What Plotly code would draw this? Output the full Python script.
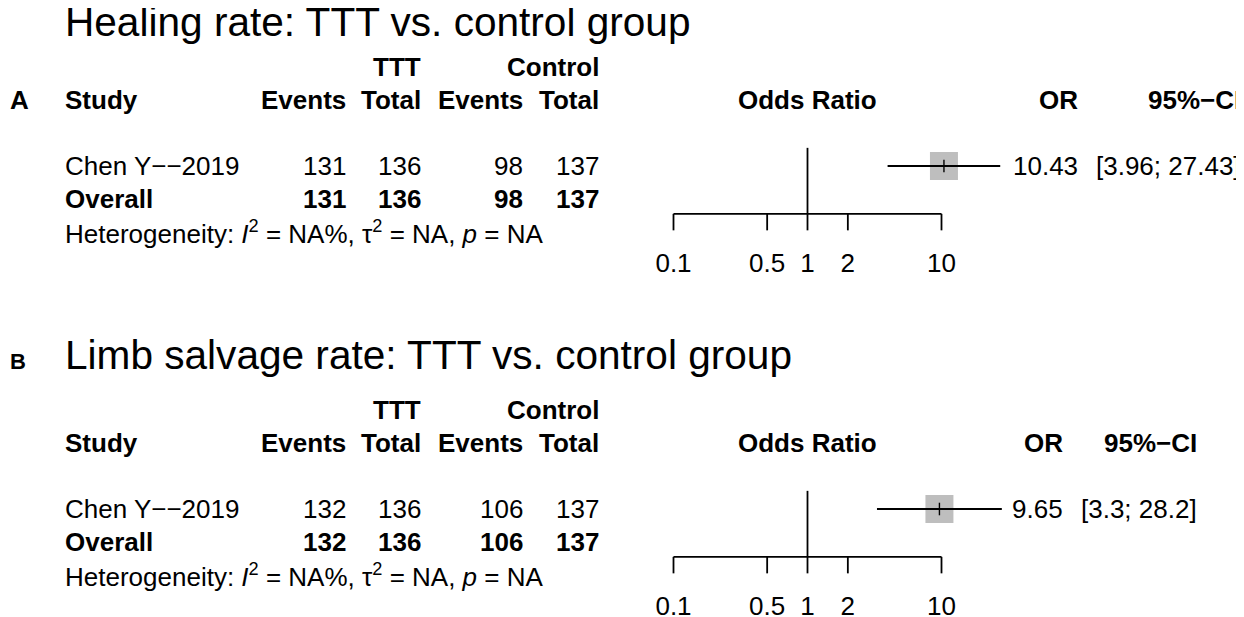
import plotly.graph_objects as go

# ---- data ----
panel_labels = ["A", "B"]
panel_titles = ["Healing rate: TTT vs. control group",
                "Limb salvage rate: TTT vs. control group"]
study_names = ["Chen Y\u2212\u22122019", "Chen Y\u2212\u22122019"]

ttt_events = [131, 132]
ttt_total = [136, 136]
ctrl_events = [98, 106]
ctrl_total = [137, 137]

odds_ratio = [10.43, 9.65]
ci_low = [3.96, 3.3]
ci_high = [27.43, 28.2]

tick_vals = [0.1, 0.5, 1, 2, 10]
tick_text = ["0.1", "0.5", "1", "2", "10"]

het_text = ("Heterogeneity: <i>I</i><sup>2</sup> = NA%, "
            "\u03c4<sup>2</sup> = NA, <i>p</i> = NA")

# ---- layout constants, in pixels of the page ----
PAGE_W, PAGE_H = 1244, 617
OFF = 8                        # body margin of the html page
W, H = PAGE_W - OFF, PAGE_H - OFF
LINE = 33                      # one text line
study_px = [166, 509]          # y of the study row in each panel
panel_px = [(OFF, 300), (300, PAGE_H)]
one_px, decade_px = 807.5, 134.0
forest_px = (640, 1010)
or_right = [1080, 1065]
ci_right = [1243, 1199]
title_line = [-4.36, -4.67]
label_line = [-2, -4.46]
label_size = [26, 22]
LW = 1.8

FONT = "Liberation Sans, Arial, sans-serif"
FS = 26


def fmt(v):
    return f"{v:.2f}".rstrip("0").rstrip(".")


def px(x):
    return (x - OFF) / W


fig = go.Figure()
ann = []

for i in range(2):
    xa = "x" if i == 0 else "x2"
    ya = "y" if i == 0 else "y2"

    # forest part (y in text lines, study row = 0)
    y_axis = 1.45
    y_tick = 1.95
    y_top = -0.55
    fig.add_trace(go.Scatter(x=[1, 1], y=[y_axis, y_top], mode="lines",
                             line=dict(color="black", width=LW),
                             xaxis=xa, yaxis=ya))
    fig.add_trace(go.Scatter(x=[tick_vals[0], tick_vals[-1]], y=[y_axis, y_axis],
                             mode="lines", line=dict(color="black", width=LW),
                             xaxis=xa, yaxis=ya))
    tx, ty = [], []
    for t in tick_vals:
        tx += [t, t, None]
        ty += [y_axis, y_tick, None]
    fig.add_trace(go.Scatter(x=tx, y=ty, mode="lines",
                             line=dict(color="black", width=LW),
                             xaxis=xa, yaxis=ya))
    fig.add_trace(go.Scatter(x=tick_vals, y=[3.0] * len(tick_vals), mode="text",
                             text=tick_text, textposition="middle center",
                             textfont=dict(family=FONT, size=FS, color="black"),
                             cliponaxis=False, xaxis=xa, yaxis=ya))
    # study: square, CI, point tick
    fig.add_trace(go.Scatter(x=[odds_ratio[i]], y=[0], mode="markers",
                             marker=dict(symbol="square", size=28, color="#bebebe",
                                         line=dict(width=0)),
                             xaxis=xa, yaxis=ya))
    fig.add_trace(go.Scatter(x=[ci_low[i], ci_high[i]], y=[0, 0], mode="lines",
                             line=dict(color="black", width=LW),
                             xaxis=xa, yaxis=ya))
    fig.add_trace(go.Scatter(x=[odds_ratio[i]], y=[0], mode="markers",
                             marker=dict(symbol="line-ns-open", size=9, color="black",
                                         line=dict(color="black", width=1.4)),
                             xaxis=xa, yaxis=ya))

    def t(x, y, s, anchor="right", bold=False, size=FS):
        if bold:
            s = f"<b>{s}</b>"
        ann.append(dict(x=px(x), y=y, xref="paper", yref=ya, text=s,
                        xanchor=anchor, yanchor="middle", showarrow=False,
                        font=dict(family=FONT, size=size, color="black")))

    t(63, title_line[i], panel_titles[i], "left", size=40.6)
    t(OFF, label_line[i], panel_labels[i], "left", bold=True, size=label_size[i])

    t(423, -3, "TTT", bold=True)
    t(601, -3, "Control", bold=True)
    t(63, -2, "Study", "left", bold=True)
    t(348, -2, "Events", bold=True)
    t(423, -2, "Total", bold=True)
    t(525, -2, "Events", bold=True)
    t(601, -2, "Total", bold=True)
    t(one_px, -2, "Odds Ratio", "center", bold=True)
    t(or_right[i], -2, "OR", bold=True)
    t(ci_right[i], -2, "95%\u2212CI", bold=True)

    t(63, 0, study_names[i], "left")
    t(348, 0, ttt_events[i])
    t(423, 0, ttt_total[i])
    t(525, 0, ctrl_events[i])
    t(601, 0, ctrl_total[i])
    t(or_right[i], 0, f"{odds_ratio[i]:.2f}")
    t(ci_right[i], 0, f"[{fmt(ci_low[i])}; {fmt(ci_high[i])}]")

    t(63, 1, "Overall", "left", bold=True)
    t(348, 1, ttt_events[i], bold=True)
    t(423, 1, ttt_total[i], bold=True)
    t(525, 1, ctrl_events[i], bold=True)
    t(601, 1, ctrl_total[i], bold=True)

    t(63, 2, het_text, "left")

# axes
lo = (forest_px[0] - one_px) / decade_px
hi = (forest_px[1] - one_px) / decade_px
xdom = [px(forest_px[0]), px(forest_px[1])]
layout_axes = {}
for i in range(2):
    top, bot = panel_px[i]
    ydom = [max(0, 1 - (bot - OFF) / H), 1 - (top - OFF) / H]
    yr = [(bot - study_px[i]) / LINE, (top - study_px[i]) / LINE]
    sfx = "" if i == 0 else "2"
    layout_axes["xaxis" + sfx] = dict(type="log", range=[lo, hi], domain=xdom,
                                      anchor="y" + sfx, visible=False,
                                      fixedrange=True)
    layout_axes["yaxis" + sfx] = dict(range=yr, domain=ydom, anchor="x" + sfx,
                                      visible=False, fixedrange=True)

fig.update_layout(width=W, height=H, margin=dict(l=0, r=0, t=0, b=0),
                  paper_bgcolor="white", plot_bgcolor="white",
                  showlegend=False, hovermode=False, annotations=ann,
                  **layout_axes)

fig.write_html("out.html")
